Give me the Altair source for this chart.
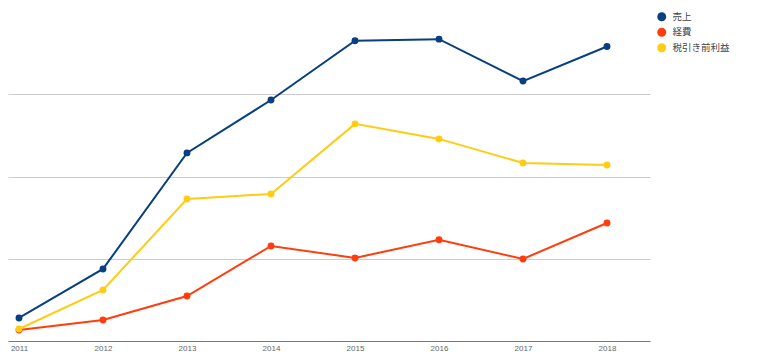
import altair as alt
import pandas as pd

years = [2011, 2012, 2013, 2014, 2015, 2016, 2017, 2018]
series_names = ["売上", "経費", "税引き前利益"]
sales = [28, 87.6, 228.7, 293, 365, 367, 316, 358]
costs = [13.4, 25.5, 54.7, 115.6, 101, 123, 99.8, 143.5]
profit = [14.6, 62, 172.7, 178.8, 264, 245.7, 216.5, 214]
colors = ["#073f80", "#ff3d0d", "#ffcc14"]

rows = []
for name, vals in zip(series_names, [sales, costs, profit]):
    for y, v in zip(years, vals):
        rows.append({"year": y, "value": v, "series": name})
df = pd.DataFrame(rows)

x = alt.X("year:Q",
          scale=alt.Scale(domain=[2011 - 11 / 84, 2018 + 43 / 84], nice=False, zero=False),
          axis=alt.Axis(values=years, format="d", title=None, grid=False, ticks=False,
                        labelPadding=3, labelFontSize=8, labelColor="#666666",
                        labelFont="Liberation Sans", domainColor="#777777", domainWidth=1))
y = alt.Y("value:Q",
          scale=alt.Scale(domain=[0, 400], nice=False),
          axis=alt.Axis(values=[100, 200, 300], labels=False, ticks=False, domain=False,
                        title=None, grid=True, gridColor="#cccccc", gridWidth=1))
color = alt.Color("series:N",
                  scale=alt.Scale(domain=series_names, range=colors),
                  legend=alt.Legend(title=None, orient="none", legendX=649, legendY=0,
                                    symbolType="circle", symbolSize=80, symbolStrokeWidth=0,
                                    labelFontSize=9.5, labelColor="#444444",
                                    labelFont="Noto Sans CJK JP", rowPadding=4.5,
                                    labelOffset=6))

base = alt.Chart(df).encode(x=x, y=y, color=color, order="year:Q")
lines = base.mark_line(strokeWidth=2)
points = base.mark_circle(size=48, opacity=1)

chart = (lines + points).properties(
    width=642, height=329,
    autosize=alt.AutoSizeParams(type="none"),
    padding={"left": 0, "top": 4, "right": 102, "bottom": 12},
).configure_view(stroke=None)

chart.save("out.html", embed_options={"renderer": "svg", "actions": False})
